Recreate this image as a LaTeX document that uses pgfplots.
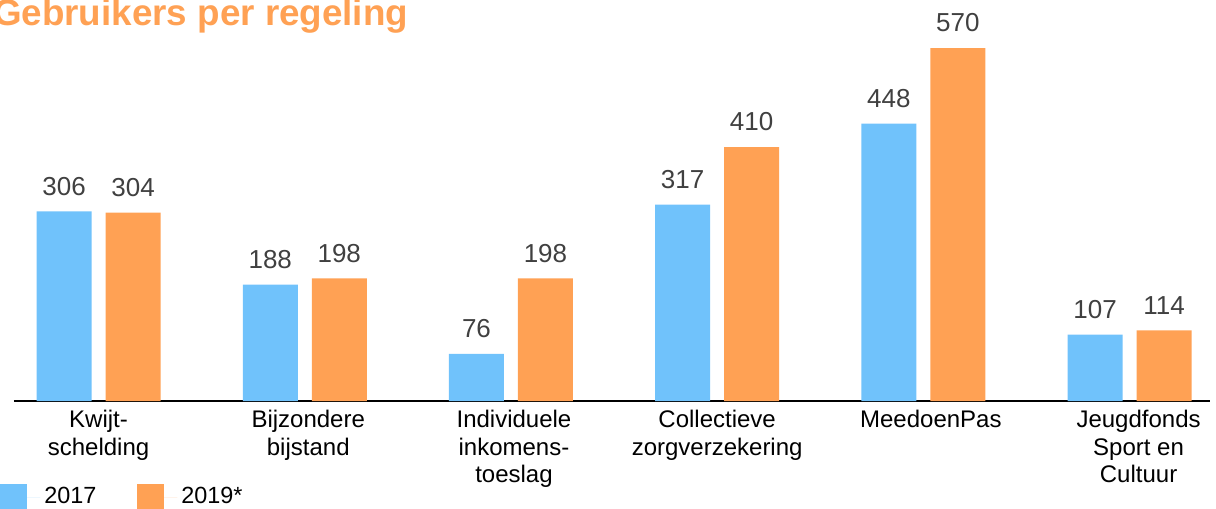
\documentclass[border=0pt]{standalone}
\usepackage{pgfplots}
\pgfplotsset{compat=1.18}
\usepackage{fontspec}
\setmainfont{Liberation Sans}
\definecolor{c17}{HTML}{70C2FB}
\definecolor{c19}{HTML}{FFA154}
\definecolor{lbl}{HTML}{404040}
\newcommand{\sh}[1]{\hspace*{#1}}
\begin{document}
\begin{tikzpicture}
\path[use as bounding box] (-7bp,-54bp) rectangle (601bp,200.5bp);
\begin{axis}[
    scale only axis,
    width=598bp, height=176.5bp,
    ybar=7bp, bar width=27.5bp,
    xmin=-0.41, xmax=5.39,
    ymin=0, ymax=570,
    axis x line=bottom, axis y line=none,
    axis line style={black, line width=0.6bp, -},
    xtick={0,...,5},
    xticklabels={{Kwijt-\\schelding},
        {\sh{3.5bp}Bijzondere\\\sh{3.5bp}bijstand},
        {\sh{3bp}Individuele\\\sh{3bp}inkomens-\\\sh{3bp}toeslag},
        {Collectieve\\zorgverzekering},
        {\sh{7.5bp}MeedoenPas},
        {\sh{9bp}Jeugdfonds\\\sh{9bp}Sport en\\\sh{9bp}Cultuur}},
    major tick length=0pt,
    xticklabel style={align=center, font=\fontsize{12bp}{13.8bp}\selectfont, text=black, yshift=-1bp},
    /pgf/number format/assume math mode=true,
    nodes near coords,
    every node near coord/.append style={font=\fontsize{13bp}{15bp}\selectfont, text=lbl, yshift=4.5bp},
    title={\bfseries Gebruikers per regeling},
    title style={at={(0,1)}, anchor=base west, xshift=-14bp, yshift=5.5bp, text=c19, font=\fontsize{18.4bp}{21bp}\selectfont},
    legend columns=2,
    legend style={at={(0,0)}, anchor=west, xshift=-7bp, yshift=-48bp, draw=none, fill=none,
        font=\fontsize{11.7bp}{14bp}\selectfont, inner sep=0pt,
        /tikz/every even column/.append style={column sep=18.5bp}},
    legend image code/.code={\fill[#1] (0bp,-6.75bp) rectangle (13.5bp,6.75bp);
        \path (0bp,0bp) -- (20bp,0bp);},
    clip=false,
]
\addplot[fill=c17, draw=none] coordinates {(0,306) (1,188) (2,76) (3,317) (4,448) (5,107)};
\addplot[fill=c19, draw=none] coordinates {(0,304) (1,198) (2,198) (3,410) (4,570) (5,114)};
\legend{2017,2019*}
\end{axis}
\end{tikzpicture}
\end{document}
